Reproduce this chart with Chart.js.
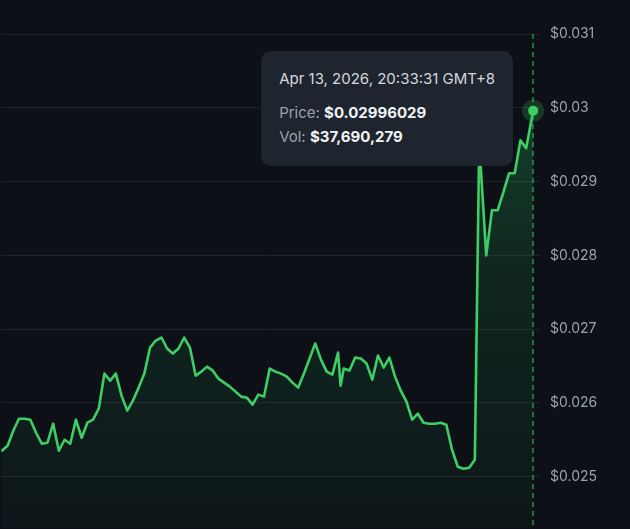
<!DOCTYPE html>
<html>
<head>
<meta charset="utf-8">
<script src="https://cdn.jsdelivr.net/npm/chart.js@4.4.1/dist/chart.umd.min.js"></script>
<style>
  html, body { margin: 0; padding: 0; background: #0d1117; overflow: hidden; }
  #wrap { position: relative; width: 630px; height: 529px; }
  #tip {
    position: absolute; opacity: 0; pointer-events: none;
    background: #1f252e; border-radius: 10px;
    padding: 18px 18px 17px 18px;
    font-family: Inter, "Noto Sans", sans-serif; font-size: 15px;
    white-space: nowrap;
  }
  #tip .t { color: #d4d8de; line-height: 20px; margin-bottom: 12px; }
  #tip .r { line-height: 24px; color: #9aa2ad; }
  #tip .r b { color: #f1f3f5; font-weight: 700; }
</style>
</head>
<body>
<div id="wrap">
  <canvas id="c" width="630" height="529"></canvas>
  <div id="tip"></div>
</div>
<script>
// Quote times, in minutes since Apr 12, 2026 00:00 (GMT+8)
const times = [
  1260, 1275, 1290, 1305, 1320, 1335, 1350, 1365, 1380, 1395,
  1410, 1425, 1440, 1455, 1470, 1485, 1500, 1515, 1530, 1545,
  1560, 1575, 1590, 1605, 1620, 1635, 1650, 1665, 1680, 1695,
  1710, 1725, 1740, 1755, 1770, 1785, 1800, 1815, 1830, 1845,
  1860, 1875, 1890, 1905, 1920, 1935, 1950, 1965, 1980, 1995,
  2010, 2025, 2040, 2055, 2070, 2085, 2100, 2115, 2130, 2145,
  2160, 2166.5, 2175, 2190, 2205, 2220, 2235, 2250, 2265, 2280,
  2295, 2310, 2325, 2340, 2355, 2370, 2385, 2400, 2415, 2430,
  2445, 2460, 2475, 2490, 2505, 2520, 2531.5, 2550, 2565, 2580,
  2595, 2610, 2625, 2640, 2655, 2673 + 31 / 60
];

// Price in USD at each quote time
const prices = [
  0.025339, 0.025353, 0.025421, 0.025624, 0.025787, 0.025787, 0.025774, 0.025597, 0.025448, 0.025462,
  0.025719, 0.025353, 0.025502, 0.025448, 0.025774, 0.025529, 0.025733, 0.025774, 0.025923, 0.026398,
  0.026303, 0.026398, 0.026100, 0.025896, 0.026032, 0.026208, 0.026398, 0.026751, 0.026846, 0.026887,
  0.026738, 0.026670, 0.026738, 0.026887, 0.026751, 0.026371, 0.026425, 0.026493, 0.026439, 0.026330,
  0.026276, 0.026222, 0.026154, 0.026086, 0.026072, 0.025977, 0.026113, 0.026086, 0.026466, 0.026425,
  0.026398, 0.026357, 0.026276, 0.026208, 0.026398, 0.026602, 0.026805, 0.026588, 0.026425, 0.026385,
  0.026683, 0.026235, 0.026466, 0.026439, 0.026615, 0.026602, 0.026534, 0.026317, 0.026643, 0.026480,
  0.026615, 0.026357, 0.026167, 0.026018, 0.025774, 0.025855, 0.025733, 0.025719, 0.025719, 0.025733,
  0.025706, 0.025367, 0.025136, 0.025109, 0.025122, 0.025231, 0.029534, 0.028000, 0.028611, 0.028611,
  0.028855, 0.029113, 0.029113, 0.029561, 0.029453, 0.02996029
];

// Price axis ticks
const priceTicks = [0.025, 0.026, 0.027, 0.028, 0.029, 0.030, 0.031];

// 24h trading volume (USD) reported with the latest quote
const volumeUsd = 37690279;

const GREEN = '#3dcf65';
const MONTHS = ['Jan','Feb','Mar','Apr','May','Jun','Jul','Aug','Sep','Oct','Nov','Dec'];

function pad2(n) { return String(n).padStart(2, '0'); }
function formatStamp(minutes) {
  const secs = Math.round(minutes * 60);
  const day = 12 + Math.floor(secs / 86400);
  const r = secs % 86400;
  const h = Math.floor(r / 3600), m = Math.floor((r % 3600) / 60), s = r % 60;
  return `${MONTHS[3]} ${day}, 2026, ${pad2(h)}:${pad2(m)}:${pad2(s)} GMT+8`;
}

Chart.defaults.font.family = 'Inter, "Noto Sans", sans-serif';

// Vertical dashed guide plus marker on the active point
const activeGuide = {
  id: 'activeGuide',
  afterDatasetsDraw(chart) {
    const act = chart.getActiveElements();
    if (!act.length) return;
    const { x, y } = act[0].element;
    const { top, bottom } = chart.chartArea;
    const ctx = chart.ctx;
    ctx.save();
    ctx.strokeStyle = '#27b453';
    ctx.lineWidth = 1.2;
    ctx.setLineDash([5, 4]);
    ctx.beginPath();
    ctx.moveTo(Math.round(x), top);
    ctx.lineTo(Math.round(x), bottom);
    ctx.stroke();
    ctx.setLineDash([]);
    ctx.fillStyle = 'rgba(61, 207, 101, 0.22)';
    ctx.beginPath(); ctx.arc(x, y, 11, 0, Math.PI * 2); ctx.fill();
    ctx.fillStyle = GREEN;
    ctx.beginPath(); ctx.arc(x, y, 5, 0, Math.PI * 2); ctx.fill();
    ctx.restore();
  }
};

function externalTip(context) {
  const { chart, tooltip } = context;
  const el = document.getElementById('tip');
  if (tooltip.opacity === 0 || !tooltip.dataPoints || !tooltip.dataPoints.length) {
    el.style.opacity = 0;
    return;
  }
  const i = tooltip.dataPoints[0].dataIndex;
  el.innerHTML =
    `<div class="t">${formatStamp(times[i])}</div>` +
    `<div class="r">Price: <b>$${prices[i].toFixed(8)}</b></div>` +
    `<div class="r">Vol: <b>$${volumeUsd.toLocaleString('en-US')}</b></div>`;
  el.style.opacity = 1;
  const w = el.offsetWidth;
  el.style.left = (chart.canvas.offsetLeft + tooltip.caretX - 20 - w) + 'px';
  el.style.top = (chart.canvas.offsetTop + tooltip.caretY - 60) + 'px';
}

const chart = new Chart(document.getElementById('c'), {
  type: 'line',
  data: {
    datasets: [{
      data: times.map((t, i) => ({ x: t, y: prices[i] })),
      borderColor: GREEN,
      borderWidth: 2.6,
      borderJoinStyle: 'round',
      borderCapStyle: 'round',
      tension: 0,
      pointRadius: 0,
      pointHoverRadius: 0,
      fill: 'start',
      backgroundColor(ctx) {
        const area = ctx.chart.chartArea;
        if (!area) return 'rgba(61,207,101,0.1)';
        const g = ctx.chart.ctx.createLinearGradient(0, area.top, 0, area.bottom);
        g.addColorStop(0, 'rgba(40, 200, 95, 0.32)');
        g.addColorStop(0.45, 'rgba(40, 200, 95, 0.13)');
        g.addColorStop(1, 'rgba(40, 200, 95, 0.03)');
        return g;
      }
    }]
  },
  options: {
    responsive: false,
    animation: false,
    events: [],
    layout: { padding: { top: 34, left: 0, right: 0, bottom: 0 } },
    interaction: { mode: 'index', intersect: false },
    plugins: {
      legend: { display: false },
      tooltip: { enabled: false, external: externalTip, position: 'average' }
    },
    scales: {
      x: {
        type: 'linear',
        display: false,
        min: 1273.5,
        max: 2691.5
      },
      y: {
        position: 'right',
        min: 0.02431,
        max: 0.031,
        border: { display: false },
        grid: { color: '#1d232b', lineWidth: 1, drawTicks: false },
        afterBuildTicks(scale) { scale.ticks = priceTicks.map(v => ({ value: v })); },
        afterFit(scale) { scale.width = 90; scale.paddingTop = 0; scale.paddingBottom = 0; },
        ticks: {
          padding: 10,
          color: '#9aa3ae',
          font: { size: 14 },
          callback: v => '$' + Number(v.toFixed(3)).toString()
        }
      }
    }
  },
  plugins: [activeGuide]
});

const last = prices.length - 1;
const pt = chart.getDatasetMeta(0).data[last];
chart.setActiveElements([{ datasetIndex: 0, index: last }]);
chart.tooltip.setActiveElements([{ datasetIndex: 0, index: last }], { x: pt.x, y: pt.y });
chart.update();
</script>
</body>
</html>
